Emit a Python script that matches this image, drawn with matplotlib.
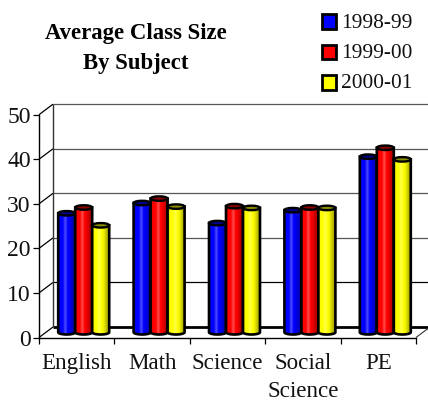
import matplotlib
matplotlib.use("Agg")
import matplotlib.pyplot as plt
from matplotlib.patches import Ellipse, PathPatch, Rectangle
from matplotlib.path import Path
import numpy as np

subjects = ["English", "Math", "Science", "Social\nScience", "PE"]
years = ["1998-99", "1999-00", "2000-01"]
class_1998 = [26.7, 29.0, 24.5, 27.4, 39.4]
class_1999 = [28.0, 30.0, 28.3, 28.0, 41.4]
class_2000 = [24.0, 28.2, 27.9, 27.9, 38.8]
y_ticks = [0, 10, 20, 30, 40, 50]

plt.rcParams["font.family"] = ["Liberation Serif", "DejaVu Serif"]

W, H = 428, 401
fig = plt.figure(figsize=(W / 100, H / 100), dpi=100)
ax = fig.add_axes([39 / W, (H - 337.5) / H, 377 / W, 222.8 / H])

# 3d look: how far the back wall sits from the front axes, in data units
depth_x = 14 / 75.4
depth_y = 10.5 / 4.456
bar_w = 17 / 75.4
cap_h = 4.5 / 4.456

# colour stops across one cylinder, left to right
def shade(color):
    c = np.array(color, dtype=float)
    light = c + (1 - c) * 0.3
    stops = [c * 0.85, c, c, light, c, c * 0.92, c * 0.75, c * 0.65]
    pos = np.linspace(0, 1, len(stops))
    xs = np.linspace(0, 1, 48)
    row = [np.interp(xs, pos, [s[k] for s in stops]) for k in range(3)]
    return np.dstack(row)

def cylinder(x, value, color, z):
    base = depth_y / 2
    top = value + base
    left, right = x - bar_w / 2, x + bar_w / 2
    t = np.linspace(np.pi, 2 * np.pi, 30)
    bx = x + bar_w / 2 * np.cos(t)
    by = base + cap_h / 2 * np.sin(t)
    verts = [(left, top)] + list(zip(bx, by)) + [(right, top), (left, top)]
    codes = [Path.MOVETO] + [Path.LINETO] * (len(verts) - 2) + [Path.CLOSEPOLY]
    outline = PathPatch(Path(verts, codes), fc="none", ec="black", lw=1.9, zorder=z + 0.2, clip_on=False)
    img = ax.imshow(shade(color), extent=[left, right, base - cap_h, top], aspect="auto", zorder=z, clip_on=True)
    ax.add_patch(outline)
    img.set_clip_path(outline.get_path(), ax.transData)
    ax.add_patch(Ellipse((x, top), bar_w, cap_h, fc=np.array(color) * 0.55, ec="black", lw=1.7, zorder=z + 0.3, clip_on=False))

# back wall, left wall and floor
line = dict(clip_on=False, solid_capstyle="butt")
for v in y_ticks:
    y = v + depth_y
    back = "black" if v in (0, 10) else "#555555"
    ax.plot([depth_x, 5.2], [y, y], color=back, lw=2.0 if v == 0 else 0.9, zorder=1, **line)
    ax.plot([0, depth_x], [v, y], color="black", lw=0.9, zorder=1, **line)
ax.plot([depth_x, depth_x], [depth_y, 50 + depth_y], color="#333333", lw=1.0, zorder=1, **line)
ax.plot([5, 5 + depth_x], [0, depth_y], color="#333333", lw=0.8, zorder=1, **line)

colors = [(0, 0, 1), (1, 0, 0), (1, 1, 0)]
series = [class_1998, class_1999, class_2000]
for j, (vals, col) in enumerate(zip(series, colors)):
    for i, v in enumerate(vals):
        cylinder(i + 0.5 + depth_x / 2 + (j - 1) * bar_w, v, col, 3 + j)

ax.set_xlim(0, 5)
ax.set_ylim(0, 50)
for s in ("top", "right"):
    ax.spines[s].set_visible(False)
ax.spines["left"].set_linewidth(1.0)
ax.spines["bottom"].set_linewidth(1.0)
ax.patch.set_alpha(0)

ax.set_yticks(y_ticks)
ax.set_xticks(range(6))
ax.set_xticklabels([])
ax.set_xticks(np.arange(5) + 0.5, minor=True)
ax.set_xticklabels(subjects, minor=True, fontsize=16.6, linespacing=1.4, color="#111111")
ax.tick_params(axis="x", which="major", length=4, width=0.9)
ax.tick_params(axis="x", which="minor", length=0, pad=11.5)
ax.tick_params(axis="y", length=4, width=0.9, labelsize=17, pad=2, labelcolor="#111111")

fig.text(136 / W, 1 - 34 / H, "Average Class Size", ha="center", va="center", fontsize=16.4, fontweight="bold")
fig.text(136 / W, 1 - 63.5 / H, "By Subject", ha="center", va="center", fontsize=16.4, fontweight="bold")

# legend placed by hand like the original
for label, col, y in zip(years, colors, [21.5, 52, 82.5]):
    fig.add_artist(Rectangle((321.5 / W, 1 - (y + 7) / H), 14 / W, 14 / H, fc=col, ec="black", lw=2.0,
                             transform=fig.transFigure))
    fig.text(341 / W, 1 - (y + 1.5) / H, label, ha="left", va="center", fontsize=15.4, color="#111111")

fig.savefig("out.png", dpi=100)
